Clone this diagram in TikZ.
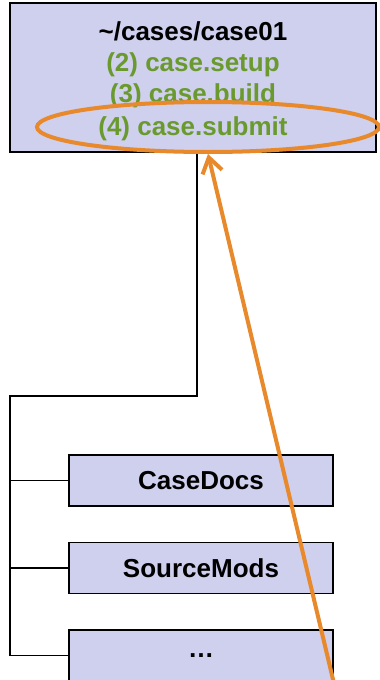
\documentclass[tikz,border=0pt]{standalone}
\usepackage{fontspec}
\setmainfont{Liberation Sans}
\usetikzlibrary{arrows.meta,positioning,shapes.geometric}
\definecolor{boxfill}{HTML}{CFCFEE}
\definecolor{cmdgreen}{HTML}{6A9A2E}
\definecolor{markorange}{HTML}{E8892B}

\begin{document}
\begin{tikzpicture}[
  x=1pt,y=-1pt,
  node distance=35pt,
  casebox/.style={draw,fill=boxfill,line width=1.5pt,minimum width=366pt,minimum height=149pt,align=center,inner sep=0pt,font=\fontsize{26}{31}\selectfont\bfseries},
  dirbox/.style={draw,fill=boxfill,line width=1.5pt,minimum width=264pt,minimum height=51pt,inner sep=0pt,font=\fontsize{26}{31}\selectfont\bfseries},
  tree/.style={line width=1.6pt},
  ring/.style={ellipse,draw=markorange,line width=4pt,minimum width=342pt,minimum height=50pt,inner sep=0pt},
  pointer/.style={-{Straight Barb[length=15pt,width=20pt]},line width=4pt,markorange}
]
\useasboundingbox (0,0) rectangle (380,680);
\node[casebox] (case) at (193,77.5) {\rule{0pt}{27pt}\textasciitilde/cases/case01\\
  \textcolor{cmdgreen}{(2) case.setup}\\
  \textcolor{cmdgreen}{(3) case.build}\\[2pt]
  \textcolor{cmdgreen}{(4) case.submit}};
\node[dirbox] (docs) at (201,480.5) {CaseDocs};
\node[dirbox,below=of docs] (mods) {SourceMods};
\node[dirbox,below=of mods] (more) {\dots};
% directory tree
\coordinate (elbow) at (10,396);
\draw[tree] ([xshift=4pt]case.south) |- (elbow) -- (elbow |- more.west);
\draw[tree] (elbow |- docs.west) -- (docs.west);
\draw[tree] (elbow |- mods.west) -- (mods.west);
\draw[tree] (elbow |- more.west) -- (more.west);
% highlight
\node[ring] (submit) at (208,127) {};
\coordinate (tail) at (336,692);
\draw[pointer] (tail) -- (submit.south);
\end{tikzpicture}
\end{document}
